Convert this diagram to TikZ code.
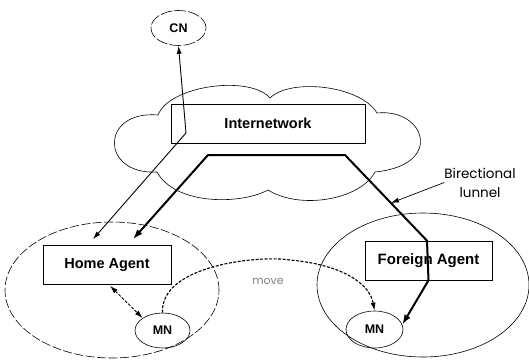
\documentclass[tikz,border=0pt]{standalone}
\usepackage{fontspec}
\setmainfont{Liberation Sans}
\newfontfamily\roundfont{Poppins}
\usetikzlibrary{arrows.meta,calc,shapes.geometric}

\begin{document}
\begin{tikzpicture}[x=1pt,y=-1pt,
  thin line/.style={line width=0.6pt},
  agentbox/.style={draw, thin line, rectangle, inner sep=0pt,
    font=\bfseries\fontsize{14.5}{17}\selectfont},
  hostnode/.style={draw, thin line, ellipse, inner sep=0pt,
    font=\bfseries\fontsize{12.5}{15}\selectfont},
  netarea/.style={draw, thin line, ellipse, inner sep=0pt},
  sig/.style={line width=0.9pt, -{Latex[length=8pt,width=5pt]}},
  sigboth/.style={line width=0.9pt, {Latex[length=8pt,width=5pt]}-{Latex[length=8pt,width=5pt]}},
  tunnelline/.style={line width=2pt, {Latex[length=10pt,width=7pt]}-{Latex[length=10pt,width=7pt]}},
  note/.style={font=\roundfont\fontsize{13.5}{19}\selectfont, align=center, inner sep=0pt},
]
\useasboundingbox (0,0) rectangle (529,359);

% home and foreign networks
\node[netarea, dash pattern=on 9pt off 2.5pt, minimum width=214pt, minimum height=136pt] (homenet) at (112,290) {};
\node[netarea, minimum width=212pt, minimum height=144pt] (foreignnet) at (423,285) {};

% the internetwork cloud
\draw[thin line] (158,115) .. controls (170,85) and (250,75) .. (270,98)
  .. controls (290,78) and (360,85) .. (377,113)
  .. controls (425,108) and (445,165) .. (375,172)
  .. controls (360,200) and (300,210) .. (268,190)
  .. controls (240,205) and (175,205) .. (157,172)
  .. controls (100,175) and (100,110) .. (158,115) -- cycle;

% nodes
\node[agentbox, minimum width=194pt, minimum height=39pt] (inet) at (268,123.5) {Internetwork};
\node[agentbox, minimum width=128pt, minimum height=39pt] (HA) at (107,265) {Home Agent};
\node[agentbox, minimum width=127pt, minimum height=39pt, font=\bfseries\fontsize{15}{18}\selectfont] (FA) at (428.5,260.5) {Foreign Agent};
\node[hostnode, dash pattern=on 12pt off 2pt, minimum width=55pt, minimum height=35pt] (CN) at (178.5,28) {CN};
\node[hostnode, minimum width=55pt, minimum height=35pt] (hmn) at (162.5,330.5) {MN};
\node[hostnode, minimum width=57pt, minimum height=37pt] (fmn) at (374.5,329.5) {MN};

% route bends
\coordinate (cnbend) at (186,133);
\coordinate (t1) at (208,155);
\coordinate (t2) at (345,155);
\coordinate (t3) at ([xshift=-1.5pt]FA.north);
\coordinate (t4) at (FA.south);

% correspondent node traffic
\draw[sigboth] (CN.south) -- (cnbend) -- ([xshift=-14pt,yshift=6pt]HA.north);

% bidirectional tunnel
\draw[tunnelline, line join=miter] ([xshift=26pt,yshift=6pt]HA.north) -- (t1) -- (t2) -- (t3) -- (t4) -- (fmn.10);
\path (t2) -- (t3) coordinate[pos=0.56] (tt);

% tunnel label
\node[note] (lbl) at (480,182.5) {Birectional\\lunnel};
\draw[sig, line width=0.7pt] (lbl.west) -- (tt);

% home agent <-> mobile node
\draw[sigboth, dash pattern=on 3pt off 1.5pt] ([xshift=3pt,yshift=-1pt]HA.south) -- (hmn.148);

% movement of the mobile node
\draw[line width=1.1pt, dash pattern=on 3pt off 1.5pt, -{Latex[length=8pt,width=5pt]}]
  (hmn.north) .. controls (160,265) and (260,255) .. (290,260)
  .. controls (345,265) and (370,285) .. (fmn.north);
\node[font=\roundfont\fontsize{11}{13}\selectfont, text=gray, inner sep=0pt] (mv) at (268,281) {move};

\end{tikzpicture}
\end{document}
